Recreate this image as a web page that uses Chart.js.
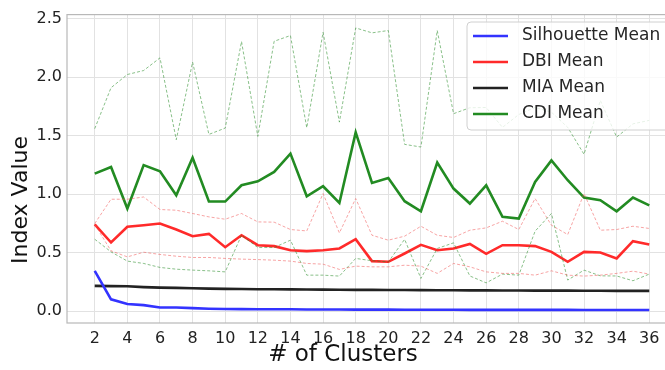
<!DOCTYPE html>
<html>
<head>
<meta charset="utf-8">
<script src="https://cdn.jsdelivr.net/npm/chart.js@4.4.1/dist/chart.umd.min.js"></script>
<style>
  html, body { margin: 0; padding: 0; background: #fff; overflow: hidden; }
  #wrap { width: 680px; height: 370px; }
</style>
</head>
<body>
<div id="wrap"><canvas id="chart" width="680" height="370"></canvas></div>
<script>
// ---- data ----
const clusters = [2, 3, 4, 5, 6, 7, 8, 9, 10, 11, 12, 13, 14, 15, 16, 17, 18, 19,
    20, 21, 22, 23, 24, 25, 26, 27, 28, 29, 30, 31, 32, 33, 34, 35, 36];

const silhouetteMean = [0.344, 0.100, 0.060, 0.051, 0.031, 0.030, 0.025, 0.020, 0.018,
    0.017, 0.016, 0.015, 0.015, 0.014, 0.013, 0.013, 0.012, 0.012, 0.012, 0.011, 0.011,
    0.011, 0.011, 0.010, 0.010, 0.010, 0.010, 0.010, 0.010, 0.010, 0.009, 0.009, 0.009,
    0.009, 0.009];

const dbiMean = [0.740, 0.586, 0.720, 0.734, 0.748, 0.697, 0.640, 0.660, 0.546, 0.648,
    0.563, 0.555, 0.520, 0.512, 0.520, 0.535, 0.614, 0.427, 0.421, 0.492, 0.566, 0.520,
    0.535, 0.574, 0.489, 0.563, 0.563, 0.555, 0.506, 0.421, 0.506, 0.500, 0.450, 0.597,
    0.569];
const dbiUpper = [0.748, 0.956, 0.956, 0.975, 0.868, 0.862, 0.834, 0.805, 0.785, 0.834,
    0.762, 0.760, 0.697, 0.685, 1.004, 0.668, 0.962, 0.648, 0.606, 0.640, 0.725, 0.648,
    0.629, 0.691, 0.711, 0.768, 0.697, 0.962, 0.734, 0.654, 1.004, 0.691, 0.697, 0.725,
    0.706];
const dbiLower = [0.740, 0.515, 0.463, 0.503, 0.484, 0.469, 0.458, 0.458, 0.450, 0.444,
    0.440, 0.435, 0.427, 0.407, 0.401, 0.356, 0.384, 0.378, 0.378, 0.392, 0.384, 0.322,
    0.407, 0.378, 0.335, 0.322, 0.322, 0.307, 0.344, 0.307, 0.299, 0.307, 0.322, 0.341,
    0.316];

const miaMean = [0.215, 0.213, 0.212, 0.205, 0.200, 0.198, 0.195, 0.192, 0.190, 0.188,
    0.187, 0.186, 0.185, 0.184, 0.183, 0.182, 0.181, 0.181, 0.180, 0.180, 0.179, 0.178,
    0.178, 0.177, 0.177, 0.176, 0.176, 0.175, 0.175, 0.175, 0.174, 0.174, 0.173, 0.173,
    0.173];

const cdiMean = [1.175, 1.231, 0.876, 1.248, 1.195, 0.990, 1.311, 0.936, 0.936, 1.075,
    1.109, 1.189, 1.346, 0.981, 1.067, 0.924, 1.527, 1.095, 1.138, 0.939, 0.853, 1.269,
    1.047, 0.919, 1.075, 0.805, 0.791, 1.103, 1.288, 1.118, 0.970, 0.947, 0.853, 0.970,
    0.904];
const cdiUpper = [1.559, 1.909, 2.022, 2.056, 2.164, 1.465, 2.128, 1.510, 1.564, 2.304,
    1.493, 2.306, 2.355, 1.567, 2.383, 1.615, 2.420, 2.378, 2.398, 1.425, 1.402, 2.398,
    1.687, 1.738, 1.740, 1.570, 1.680, 1.740, 1.700, 1.570, 1.340, 1.800, 1.487, 1.600,
    1.630];
const cdiLower = [0.614, 0.506, 0.427, 0.407, 0.373, 0.358, 0.350, 0.344, 0.335, 0.648,
    0.543, 0.543, 0.606, 0.307, 0.307, 0.299, 0.450, 0.430, 0.420, 0.613, 0.279, 0.535,
    0.583, 0.300, 0.241, 0.316, 0.307, 0.683, 0.834, 0.265, 0.350, 0.301, 0.300, 0.259,
    0.316];

const xTicks = [2, 4, 6, 8, 10, 12, 14, 16, 18, 20, 22, 24, 26, 28, 30, 32, 34, 36];
const yTicks = [0.0, 0.5, 1.0, 1.5, 2.0, 2.5];

const FONT = "'DejaVu Sans', sans-serif";

function pts(values) {
    return clusters.map((c, i) => ({ x: c, y: values[i] }));
}

function meanLine(label, values, color) {
    return {
        label: label, data: pts(values), borderColor: color, backgroundColor: color,
        borderWidth: 2.6, pointRadius: 0, tension: 0, inLegend: true
    };
}

function bandLine(values, color) {
    return {
        label: '', data: pts(values), borderColor: color, borderWidth: 1,
        borderDash: [3, 2], pointRadius: 0, tension: 0, inLegend: false
    };
}

// matplotlib style frame round the plot area
const framePlugin = {
    id: 'frame',
    afterDatasetsDraw(chart) {
        const a = chart.chartArea, ctx = chart.ctx;
        ctx.save();
        ctx.strokeStyle = '#b8b8b8';
        ctx.lineWidth = 1.2;
        ctx.strokeRect(a.left, a.top, a.right - a.left, a.bottom - a.top);
        ctx.restore();
    }
};

// axis titles, placed where the reference has them
const axisTitles = {
    id: 'axisTitles',
    afterDraw(chart) {
        const ctx = chart.ctx;
        ctx.save();
        ctx.fillStyle = '#111';
        ctx.textAlign = 'center';
        ctx.textBaseline = 'middle';
        ctx.font = '23px ' + FONT;
        ctx.fillText('# of Clusters', 343, 355);
        ctx.font = '22px ' + FONT;
        ctx.translate(21, 200);
        ctx.rotate(-Math.PI / 2);
        ctx.fillText('Index Value', 0, 0);
        ctx.restore();
    }
};

// legend inside the plot, upper right
const insideLegend = {
    id: 'insideLegend',
    afterDatasetsDraw(chart) {
        const ctx = chart.ctx;
        const items = chart.data.datasets.filter(d => d.inLegend);
        const x0 = 467, y0 = 22, w = 210, h = 108, rowH = 26;
        ctx.save();
        ctx.beginPath();
        ctx.roundRect(x0, y0, w, h, 4);
        ctx.fillStyle = 'rgba(255,255,255,0.8)';
        ctx.fill();
        ctx.strokeStyle = '#d0d0d0';
        ctx.lineWidth = 1;
        ctx.stroke();
        ctx.font = '17px ' + FONT;
        ctx.textBaseline = 'middle';
        items.forEach((d, i) => {
            const cy = y0 + 14 + i * rowH;
            ctx.strokeStyle = d.borderColor;
            ctx.lineWidth = 2.6;
            ctx.beginPath();
            ctx.moveTo(473, cy);
            ctx.lineTo(508, cy);
            ctx.stroke();
            ctx.fillStyle = '#262626';
            ctx.fillText(d.label, 522, cy);
        });
        ctx.restore();
    }
};

const chart = new Chart(document.getElementById('chart'), {
    type: 'line',
    data: {
        datasets: [
            bandLine(dbiUpper, 'rgba(240,90,90,0.55)'),
            bandLine(dbiLower, 'rgba(240,90,90,0.55)'),
            bandLine(cdiUpper, 'rgba(40,140,40,0.55)'),
            bandLine(cdiLower, 'rgba(40,140,40,0.55)'),
            meanLine('Silhouette Mean', silhouetteMean, '#3333ff'),
            meanLine('DBI Mean', dbiMean, '#ff2a2a'),
            meanLine('MIA Mean', miaMean, '#222222'),
            meanLine('CDI Mean', cdiMean, '#228b22')
        ]
    },
    options: {
        responsive: false,
        animation: false,
        layout: { padding: { top: 14, right: 3, left: 0, bottom: 0 } },
        plugins: { legend: { display: false }, tooltip: { enabled: false } },
        scales: {
            x: {
                type: 'linear', min: 0.3, max: 37.7,
                afterBuildTicks: s => { s.ticks = xTicks.map(v => ({ value: v })); },
                afterFit: s => { s.height = 47; },
                grid: { color: '#e2e2e2', lineWidth: 1, drawTicks: false },
                border: { display: false },
                ticks: { font: { family: FONT, size: 16 }, color: '#222', padding: 6,
                    maxRotation: 0, autoSkip: false }
            },
            y: {
                min: -0.102, max: 2.534,
                afterBuildTicks: s => { s.ticks = yTicks.map(v => ({ value: v })); },
                afterFit: s => { s.width = 67; },
                grid: { color: '#e2e2e2', lineWidth: 1, drawTicks: false },
                border: { display: false },
                ticks: { font: { family: FONT, size: 16 }, color: '#222', padding: 5,
                    callback: v => v.toFixed(1) }
            }
        }
    },
    plugins: [framePlugin, insideLegend, axisTitles]
});
</script>
</body>
</html>
